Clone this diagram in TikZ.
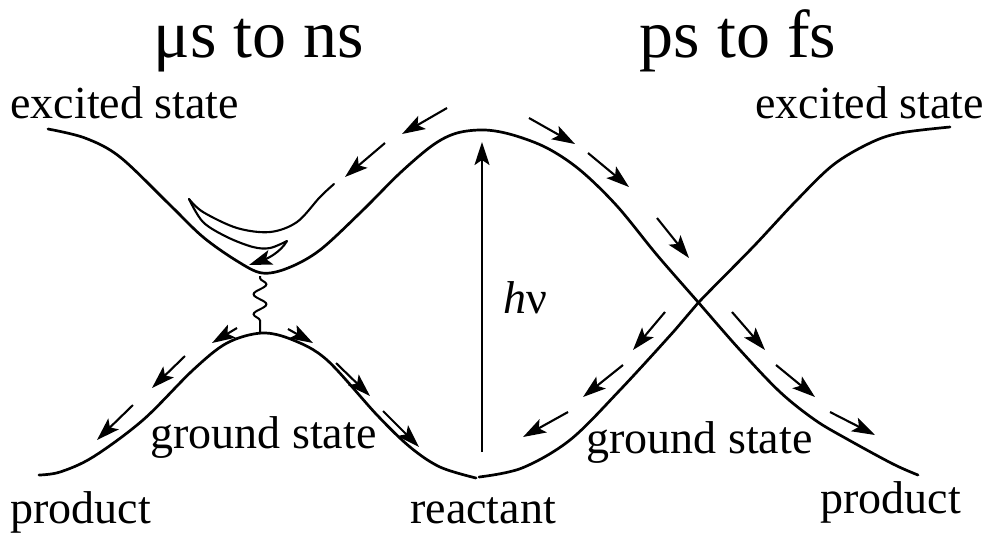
\documentclass[tikz,border=0pt]{standalone}
\usepackage{fontspec}
\setmainfont{Liberation Serif}
\usetikzlibrary{arrows.meta,decorations.pathmorphing}
\tikzset{
    pes/.style={line width=1.35pt, line cap=round},
    traj/.style={line width=1.05pt},
    trajarrow/.style={traj, -{Stealth[length=11.5pt, width=7.5pt, inset=2.5pt]}},
    statelabel/.style={font=\fontsize{23}{26}\selectfont, inner sep=0pt, anchor=base west},
    timelabel/.style={font=\fontsize{34}{38}\selectfont, inner sep=0pt, anchor=base},
    coupling/.style={line width=1pt, decorate,
        decoration={snake, segment length=10pt, amplitude=3.2pt, pre length=1pt, post length=1pt}},
}

\begin{document}
\begin{tikzpicture}[x=0.5pt, y=-0.5pt]
    \useasboundingbox (0,0) rectangle (994,538);

    % --- Time scales --------------------------------------------------------------
    \node[timelabel] (slow) at (259,57) {μs to ns};
    \node[timelabel] (fast) at (738,57) {ps to fs};

    % --- State labels -------------------------------------------------------------
    \node[statelabel] (exleft) at (10,118) {excited state};
    \node[statelabel] (exright) at (755,118) {excited state};
    \node[statelabel] (gsleft) at (150,448) {ground state};
    \node[statelabel] (gsright) at (586,453) {ground state};
    \node[statelabel] (prodleft) at (10,523) {product};
    \node[statelabel] (prodright) at (820,513) {product};
    \node[statelabel] (reac) at (410,523) {reactant};
    \node[statelabel] (photon) at (503,313) {\textit{h}ν};

    % --- Potential energy curves --------------------------------------------------
    \draw[pes] plot[smooth, tension=0.55] coordinates {
        (48,129) (85,138) (120,157) (170,205) (203,237) (237,261) (262,273)
        (288,268) (320,250) (362,211) (400,173) (433,145) (457,133) (485,130)
        (513,135) (547,148) (580,170) (617,206) (657,255) (698,302) (740,350)
        (780,392) (815,420) (847,439) (893,464) (918,475)};
    \draw[pes] plot[smooth, tension=0.55] coordinates {
        (39,475) (60,472) (93,457) (143,420) (193,370) (227,343) (262,333)
        (293,340) (327,360) (377,415) (410,447) (440,467) (476,478)};
    \draw[pes] plot[smooth, tension=0.55] coordinates {
        (479,477) (522,468) (570,440) (620,390) (675,330) (698,303) (753,247)
        (795,202) (833,165) (870,143) (900,133) (950,127)};

    % --- Excitation ---------------------------------------------------------------
    \coordinate (hvbot) at (482,452);
    \coordinate (hvtop) at (482,142);
    \draw[trajarrow] (hvbot) -- (hvtop);

    % --- Slow channel: trapped in the excited state well --------------------------
    \draw[trajarrow] (447,108) -- (402,134);
    \draw[trajarrow] (385,143) -- (345,177);
    \draw[traj, line cap=round] plot[smooth, tension=0.55] coordinates {
        (334,184) (320,197) (297,222) (270,232) (237,228) (203,212) (189,199)};
    \draw[traj, line cap=round] plot[smooth, tension=0.55] coordinates {
        (189,199) (203,222) (227,237) (253,247) (270,248) (287,241)};
    \draw[trajarrow] (287,241) .. controls (280,253) and (266,259) .. (249,265);
    \coordinate (upmin) at (260,276);
    \coordinate (downmax) at (260,332);
    \draw[coupling] (upmin) -- (downmax);
    \draw[trajarrow] (237,328) -- (212,343);
    \draw[trajarrow] (185,356) -- (152,388);
    \draw[trajarrow] (133,405) -- (97,440);
    \draw[trajarrow] (288,329) -- (313,343);
    \draw[trajarrow] (336,363) -- (370,396);
    \draw[trajarrow] (383,411) -- (419,447);

    % --- Fast channel: through the crossing ---------------------------------------
    \draw[trajarrow] (529,118) -- (575,144);
    \draw[trajarrow] (588,153) -- (629,187);
    \draw[trajarrow] (657,218) -- (689,258);
    \draw[trajarrow] (732,312) -- (765,350);
    \draw[trajarrow] (776,365) -- (815,397);
    \draw[trajarrow] (830,412) -- (875,435);
    \draw[trajarrow] (665,312) -- (633,350);
    \draw[trajarrow] (623,365) -- (583,397);
    \draw[trajarrow] (568,412) -- (523,437);

\end{tikzpicture}
\end{document}
